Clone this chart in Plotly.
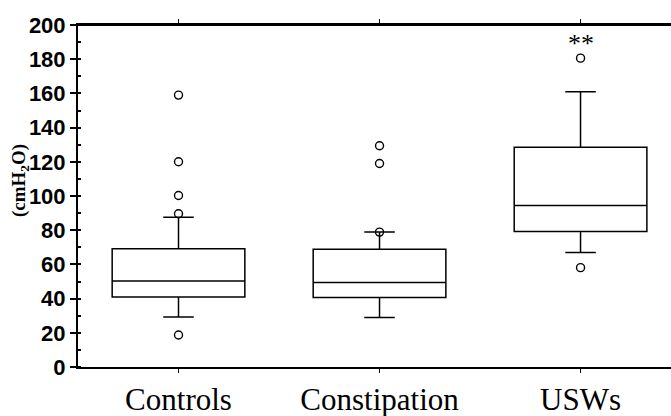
import plotly.graph_objects as go

categories = ["Controls", "Constipation", "USWs"]
q1 = [41, 40.6, 79.3]
median = [50.3, 49.4, 94.5]
q3 = [69.2, 68.8, 128.5]
lower_whisker = [29.3, 29, 66.9]
upper_whisker = [87.6, 78.9, 161]
outliers = {
    "Controls": [159, 120, 100.3, 89.6, 18.7],
    "Constipation": [129.4, 119, 78.9],
    "USWs": [180.6, 58.1],
}
y_ticks = list(range(0, 201, 20))
significance = {"USWs": "**"}
significance_y = 189

fig = go.Figure()
for i, cat in enumerate(categories):
    fig.add_trace(go.Box(
        x=[i], q1=[q1[i]], median=[median[i]], q3=[q3[i]],
        lowerfence=[lower_whisker[i]], upperfence=[upper_whisker[i]],
        width=0.66, whiskerwidth=0.23, boxpoints=False,
        fillcolor="white", line=dict(color="black", width=1.5),
        showlegend=False, name=cat,
    ))

ox, oy = [], []
for i, cat in enumerate(categories):
    for v in outliers[cat]:
        ox.append(i)
        oy.append(v)
fig.add_trace(go.Scatter(
    x=ox, y=oy, mode="markers",
    marker=dict(symbol="circle-open", size=8, color="black", line=dict(width=1.4)),
    showlegend=False,
))

for cat, txt in significance.items():
    fig.add_annotation(x=categories.index(cat), y=significance_y, text=txt,
                       showarrow=False, xref="x", yref="y",
                       font=dict(family="Liberation Serif", size=26, color="black"))

fig.add_annotation(
    x=(20 - 78) / 593, y=(367 - 181) / 342, xref="paper", yref="paper",
    text="(cmH<sub>2</sub>O)", textangle=-90, showarrow=False,
    xanchor="center", yanchor="middle",
    font=dict(family="Liberation Serif", size=19, color="black", weight="bold"),
)

# top frame line
fig.add_shape(type="line", xref="paper", yref="paper", x0=0, x1=1, y0=1, y1=1,
              line=dict(color="black", width=2))

fig.update_xaxes(
    range=[-0.5, 2.45], tickmode="array", tickvals=list(range(len(categories))),
    ticktext=categories, ticks="outside", ticklen=4, tickwidth=1, tickcolor="black",
    showline=True, linecolor="black", linewidth=2, mirror="ticks",
    showgrid=False, zeroline=False,
    tickfont=dict(family="Liberation Serif", size=31, color="black"),
)
fig.update_yaxes(
    range=[0, 200], tickmode="array", tickvals=y_ticks,
    ticks="outside", ticklen=6, tickwidth=1.5, tickcolor="black",
    showline=True, linecolor="black", linewidth=2,
    showgrid=False, zeroline=False,
    tickfont=dict(family="Liberation Sans", size=22, color="black", weight="bold"),
    minor=dict(ticks="inside", ticklen=3, dtick=10, tickcolor="black", showgrid=False),
)
fig.update_layout(
    width=671, height=416,
    margin=dict(l=78, r=0, t=25, b=49),
    plot_bgcolor="white", paper_bgcolor="white",
)
fig.write_html("out.html", config={"displayModeBar": False},
               post_script="document.body.style.margin='0';document.body.style.overflow='hidden';")
